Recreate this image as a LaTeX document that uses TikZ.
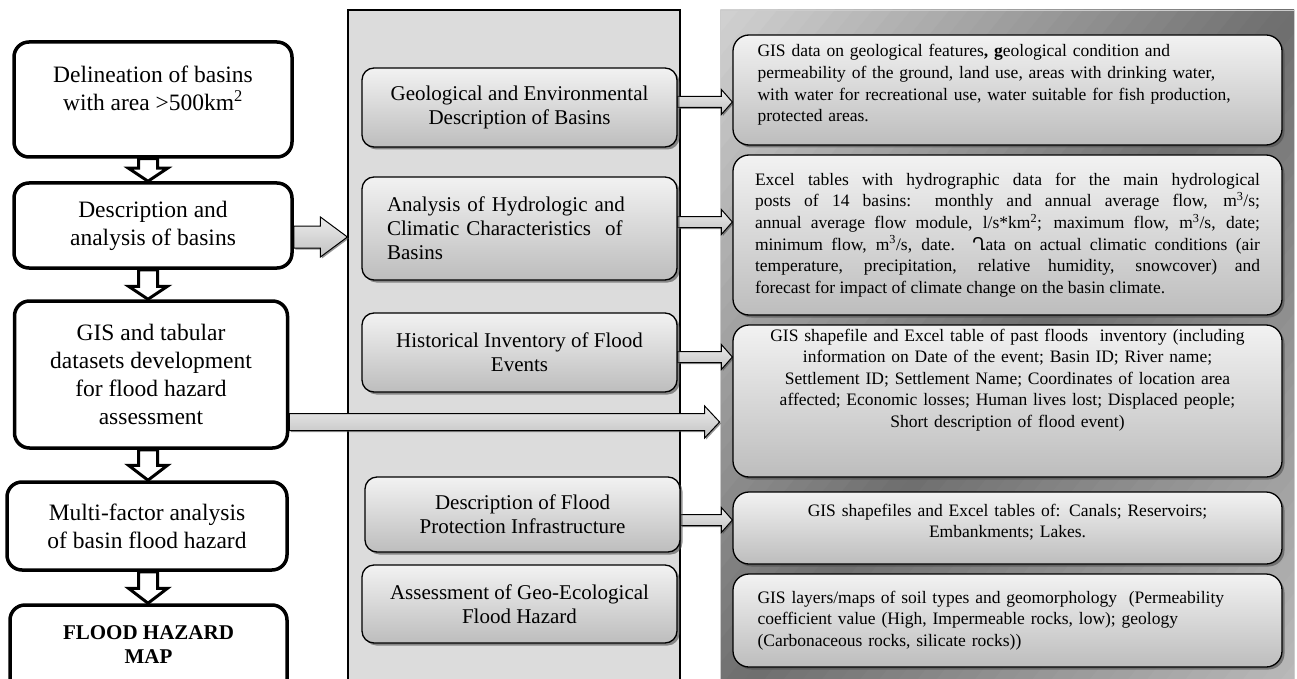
\documentclass[tikz,border=0pt]{standalone}
\usepackage{fontspec}
\setmainfont{Liberation Serif}
\newfontfamily\armfont{DejaVu Sans}
\usetikzlibrary{shadows,calc}
\pgfdeclarelayer{panel}
\pgfdeclarelayer{arrows}
\pgfsetlayers{panel,arrows,main}
\definecolor{mpanelfill}{HTML}{DCDCDC}
\definecolor{boxtop}{HTML}{F2F2F2}
\definecolor{boxbot}{HTML}{BDBDBD}
\definecolor{rpanlight}{HTML}{D2D2D2}
\definecolor{rpanlighttwo}{HTML}{BDBDBD}
\definecolor{rpandark}{HTML}{6E6E6E}
\definecolor{arrtop}{HTML}{EBEBEB}
\definecolor{arrbot}{HTML}{C2C2C2}
% horizontal block arrow: style, start, end, shaft half, head half, head length
\newcommand{\hblock}[6]{%
  \path[#1] let \p1=(#2), \p2=(#3) in
    (\x1,\y1+#4pt) -- (\x2-#6pt,\y1+#4pt) -- (\x2-#6pt,\y1+#5pt) -- (\x2,\y1)
    -- (\x2-#6pt,\y1-#5pt) -- (\x2-#6pt,\y1-#4pt) -- (\x1,\y1-#4pt) -- cycle;}
% vertical (downward) block arrow
\newcommand{\vblock}[6]{%
  \path[#1] let \p1=(#2), \p2=(#3) in
    (\x1-#4pt,\y1) -- (\x1-#4pt,\y2+#6pt) -- (\x1-#5pt,\y2+#6pt) -- (\x1,\y2)
    -- (\x1+#5pt,\y2+#6pt) -- (\x1+#4pt,\y2+#6pt) -- (\x1+#4pt,\y1) -- cycle;}
\tikzset{
  lfont/.style={font=\fontsize{23.5}{28}\selectfont},
  mfont/.style={font=\fontsize{21}{24}\selectfont},
  rfont/.style={font=\fontsize{17.5}{21.6}\selectfont},
  lbox/.style={draw, line width=3.5pt, rounded corners=15pt, fill=white, inner sep=0pt, align=center, lfont},
  ltext/.style={inner sep=0pt, align=center, lfont},
  mbox/.style={draw, line width=1.3pt, rounded corners=12pt, top color=boxtop, bottom color=boxbot,
    inner sep=0pt, align=center, mfont,
    drop shadow={shadow xshift=2.5pt, shadow yshift=-2.5pt, fill=black!70, opacity=0.6}},
  rbox/.style={draw, line width=1.3pt, rounded corners=16pt, top color=boxtop, bottom color=boxbot,
    inner sep=0pt, rfont,
    drop shadow={shadow xshift=2.5pt, shadow yshift=-2.5pt, fill=black!70, opacity=0.6}},
  rtext/.style={inner sep=0pt, rfont, text width=500pt},
  harr/.style={draw, line width=1pt, top color=arrtop, bottom color=arrbot,
    drop shadow={shadow xshift=1.5pt, shadow yshift=-1.5pt, fill=black!70, opacity=0.6}},
  varr/.style={draw, line width=3pt, fill=white, line join=miter},
}
\begin{document}
\begin{tikzpicture}[x=1pt,y=-1pt]
\useasboundingbox (0,0) rectangle (1297,679);
\clip (0,0) rectangle (1297,679);

% panels
\begin{pgfonlayer}{panel}
\node[draw=black, line width=1.2pt, fill=mpanelfill, minimum width=332pt, minimum height=700pt, inner sep=0pt] (mpanel) at (514,360) {};
\begin{scope}
  \clip (720,10) rectangle (1294,710);
  \foreach \i in {0,...,59}{
    \pgfmathsetmacro{\ta}{\i*14.7967}
    \pgfmathsetmacro{\tb}{(\i+1)*14.7967+0.8}
    \pgfmathsetmacro{\s}{(\i+0.5)/60}
    \pgfmathsetmacro{\pct}{100-abs(200*\s-100)}
    \ifdim \s pt<0.5pt \colorlet{stripc}{rpandark!\pct!rpanlight}\else\colorlet{stripc}{rpandark!\pct!rpanlighttwo}\fi
    \fill[stripc] ({720+\ta*0.7733-634.1},{10+\ta*0.6341+773.3})
      -- ({720+\ta*0.7733+634.1},{10+\ta*0.6341-773.3})
      -- ({720+\tb*0.7733+634.1},{10+\tb*0.6341-773.3})
      -- ({720+\tb*0.7733-634.1},{10+\tb*0.6341+773.3}) -- cycle;
  }
\end{scope}
\node[draw=gray!40, line width=0.8pt, minimum width=574pt, minimum height=700pt, inner sep=0pt] (rpanel) at (1007,360) {};
\end{pgfonlayer}

% left column
\node[lbox, minimum width=278pt, minimum height=115pt] (l1) at (153,99.5) {};
\node[ltext] (l1t) at ([yshift=11.5pt]l1.center) {Delineation of basins\\with area >500km\textsuperscript{2}};
\node[lbox, minimum width=278pt, minimum height=85pt] (l2) at (153,225.5) {Description and\\analysis of basins};
\node[lbox, minimum width=273pt, minimum height=147pt] (l3) at (151,374.5) {GIS and tabular\\datasets development\\for flood hazard\\assessment};
\node[lbox, minimum width=280pt, minimum height=88pt] (l4) at (147,526) {Multi-factor analysis\\of basin flood hazard};
\node[lbox, minimum width=277pt, minimum height=100pt] (l5) at (148.5,655) {};
\node[ltext, font=\fontsize{21}{24}\selectfont\bfseries] (l5t) at (148.5,645) {FLOOD HAZARD\\MAP};

% middle column
\node[mbox, minimum width=315pt, minimum height=79pt] (mb1) at (519.5,107.5) {Geological and Environmental\\Description of Basins};
\node[mbox, minimum width=315pt, minimum height=103pt, text width=265pt, align=left] (mb2) at (519.5,228.5) {Analysis of Hydrologic and\\Climatic Characteristics\ \ of\\Basins};
\node[mbox, minimum width=315pt, minimum height=79pt] (mb3) at (519.5,352.5) {Historical Inventory of Flood\\Events};
\node[mbox, minimum width=315pt, minimum height=75pt] (mb4) at (522.5,514.5) {Description of Flood\\Protection Infrastructure};
\node[mbox, minimum width=315pt, minimum height=78pt] (mb5) at (519.5,604) {Assessment of Geo-Ecological\\Flood Hazard};

% right column
\node[rbox, minimum width=549pt, minimum height=110pt] (rb1) at (1007.5,90) {};
\node[rtext, align=left] (rb1t) at ([yshift=5pt]rb1.center) {GIS data on geological features\textbf{, g}eological condition and\\permeability of the ground, land use, areas with drinking water,\\with water for recreational use, water suitable for fish production,\\protected areas.};
\node[rbox, minimum width=549pt, minimum height=160pt, text width=505pt, align=justify] (rb2) at (1007.5,235) {Excel tables with hydrographic data for the main hydrological\linebreak
posts of 14 basins: monthly and annual average flow, m\textsuperscript{3}/s;\linebreak
annual average flow module, l/s*km\textsuperscript{2}; maximum flow, m\textsuperscript{3}/s, date;\linebreak
minimum flow, m\textsuperscript{3}/s, date. {\armfont Ղ}ata on actual climatic conditions (air\linebreak
temperature, precipitation, relative humidity, snowcover) and\linebreak
forecast for impact of climate change on the basin climate.};
\node[rbox, minimum width=549pt, minimum height=152pt] (rb3) at (1007.5,401) {};
\node[rtext, align=center, text width=530pt] (rb3t) at ([yshift=21pt]rb3.center) {GIS shapefile and Excel table of past floods\ \ inventory (including\\information on Date of the event; Basin ID; River name;\\Settlement ID; Settlement Name; Coordinates of location area\\affected; Economic losses; Human lives lost; Displaced people;\\Short description of flood event)};
\node[rbox, minimum width=549pt, minimum height=72pt] (rb4) at (1007.5,528) {};
\node[rtext, align=center, text width=530pt] (rb4t) at ([yshift=6pt]rb4.center) {GIS shapefiles and Excel tables of: Canals; Reservoirs;\\Embankments; Lakes.};
\node[rbox, minimum width=549pt, minimum height=93pt, text width=500pt, align=left] (rb5) at (1007.5,620.5) {GIS layers/maps of soil types and geomorphology\ \ (Permeability\\coefficient value (High, Impermeable rocks, low); geology\\(Carbonaceous rocks, silicate rocks))};

% connectors
\begin{pgfonlayer}{arrows}
\vblock{varr}{[xshift=-5pt]l1.south}{l2.north}{9.5}{19.5}{13}
\vblock{varr}{[xshift=-5pt]l2.south}{l3.north}{9.5}{19.5}{13}
\vblock{varr}{[xshift=-3pt]l3.south}{l4.north}{9.5}{19.5}{15}
\vblock{varr}{[xshift=1pt]l4.south}{l5.north}{9.5}{19.5}{15}
\hblock{harr}{[yshift=-11.5pt]l2.east}{mpanel.west}{11}{20}{27}
\hblock{harr}{[yshift=-47.5pt]l3.east}{rpanel.west}{8.5}{16}{15}
\hblock{harr}{[yshift=5.5pt]mb1.east}{rb1.west}{5.5}{12.5}{11}
\hblock{harr}{[yshift=6.5pt]mb2.east}{rb2.west}{5.5}{12.5}{11}
\hblock{harr}{[yshift=-4.5pt]mb3.east}{rb3.west}{5.5}{12.5}{11}
\hblock{harr}{[yshift=-5.5pt]mb4.east}{rb4.west}{5.5}{12.5}{11}
\end{pgfonlayer}
\end{tikzpicture}
\end{document}
